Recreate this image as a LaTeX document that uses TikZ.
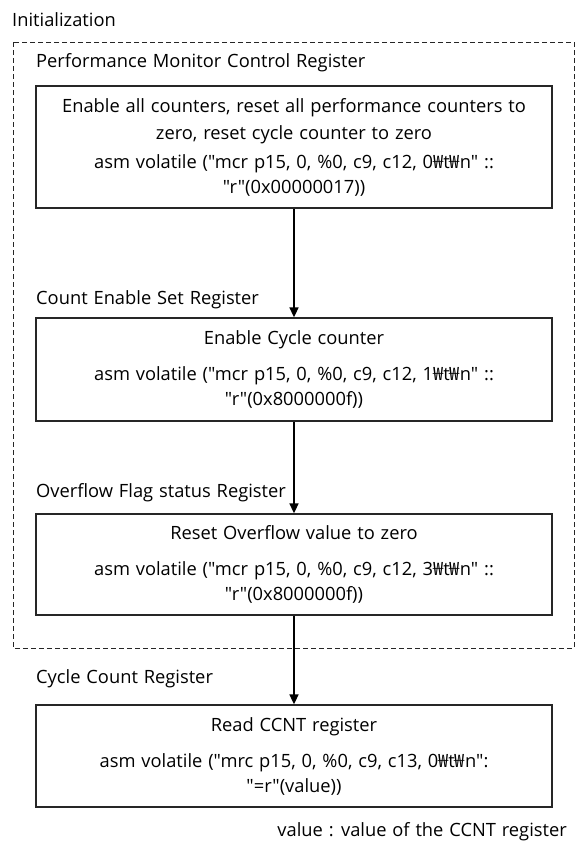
\documentclass[tikz,border=0pt]{standalone}
\usepackage{fontspec}
\setmainfont{Open Sans}[Ligatures=TeXOff]
\newfontfamily\wonfont{Noto Sans CJK KR}
\newcommand{\won}{{\wonfont ₩}}
\usetikzlibrary{arrows.meta}
\newcommand{\fs}{\fontsize{18.3}{27}\selectfont\spaceskip=0.32em plus 0.1em}
\begin{document}
\begin{tikzpicture}[x=1pt,y=-1pt,
  box/.style={draw=black!85, line width=1.3pt, minimum width=516pt, align=center, inner sep=0pt, font=\fs},
  lbl/.style={anchor=west, inner sep=0pt, font=\fs},
  flow/.style={line width=1.6pt, -{Triangle[length=10pt,width=9pt]}},
  grp/.style={draw=black!85, line width=0.8pt, dash pattern=on 5pt off 3pt}]
\useasboundingbox (0,0) rectangle (577,847);
\node[lbl] (init) at (12,20) {Initialization};
\draw[grp] (13,42) rectangle (574,648);
\node[lbl] (l1) at (36,63) {Performance Monitor Control Register};
\node[box, minimum height=122pt] (b1) at (294,147) {Enable all counters, reset all performance counters to\\zero, reset cycle counter to zero\\[2pt]asm volatile ("mcr p15, 0, \%0, c9, c12, 0\won t\won n" ::\\[-2pt]"r"(0x00000017))};
\node[lbl] (l2) at (36,300) {Count Enable Set Register};
\node[box, minimum height=103pt] (b2) at (294,369.5) {Enable Cycle counter\\[9pt]asm volatile ("mcr p15, 0, \%0, c9, c12, 1\won t\won n" ::\\[-2pt]"r"(0x8000000f))};
\node[lbl] (l3) at (36,493) {Overflow Flag status Register};
\node[box, minimum height=101pt] (b3) at (294,564.5) {Reset Overflow value to zero\\[9pt]asm volatile ("mcr p15, 0, \%0, c9, c12, 3\won t\won n" ::\\[-2pt]"r"(0x8000000f))};
\node[lbl] (l4) at (36,679) {Cycle Count Register};
\node[box, minimum height=102pt] (b4) at (294,756) {Read CCNT register\\[9pt]asm volatile ("mrc p15, 0, \%0, c9, c13, 0\won t\won n":\\[-2pt]"=r"(value))};
\node[inner sep=0pt, anchor=east, font=\fs] (note) at (567,832) {value : value of the CCNT register};
\draw[flow] (b1) -- (b2);
\draw[flow] (b2) -- (b3);
\draw[flow] (b3) -- (b4);
\end{tikzpicture}
\end{document}
